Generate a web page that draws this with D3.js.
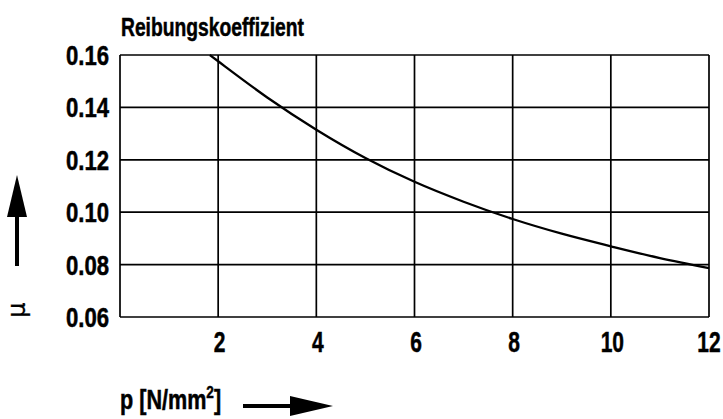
<!DOCTYPE html>
<html>
<head>
<meta charset="utf-8">
<script src="https://cdn.jsdelivr.net/npm/d3@7"></script>
<style>
  body { margin: 0; background: #fff; }
  svg text { font-family: "Liberation Sans", Arial, sans-serif; font-weight: bold; fill: #000; stroke: #000; stroke-width: 0.5px; }
</style>
</head>
<body>
<div class="visualization"></div>
<script>
const width = 723;
const height = 419;

// values
const pressure = [1.83, 2, 3, 4, 5, 6, 7, 8, 9, 10, 11, 12];
const friction = [0.16, 0.1576, 0.1438, 0.1315, 0.1207, 0.1116, 0.104, 0.0974, 0.0918, 0.087, 0.0825, 0.0787];
const xTicks = [2, 4, 6, 8, 10, 12];
const yTicks = [0.06, 0.08, 0.10, 0.12, 0.14, 0.16];
const xGrid = [0, 2, 4, 6, 8, 10, 12];

const plotLeft = 120, plotRight = 709, plotTop = 55, plotBottom = 317;

var svg = d3.select(".visualization").append("svg")
  .attr("width", width)
  .attr("height", height);

var x = d3.scaleLinear().domain([0, 12]).range([plotLeft, plotRight]);
var y = d3.scaleLinear().domain([0.06, 0.16]).range([plotBottom, plotTop]);

// grid
svg.append("g").selectAll("line")
  .data(xGrid).enter().append("line")
  .attr("x1", d => x(d)).attr("x2", d => x(d))
  .attr("y1", plotTop).attr("y2", plotBottom)
  .attr("stroke", "#000").attr("stroke-width", 1.7);

svg.append("g").selectAll("line")
  .data(yTicks).enter().append("line")
  .attr("x1", plotLeft).attr("x2", plotRight)
  .attr("y1", d => y(d)).attr("y2", d => y(d))
  .attr("stroke", "#000").attr("stroke-width", 1.7);

// curve
var line = d3.line()
  .x((d, i) => x(pressure[i]))
  .y(d => y(d))
  .curve(d3.curveMonotoneX);

svg.append("path")
  .datum(friction)
  .attr("d", line)
  .attr("fill", "none")
  .attr("stroke", "#000")
  .attr("stroke-width", 2.3);

// tick labels, squeezed horizontally to look condensed
svg.append("g").selectAll("text")
  .data(yTicks).enter().append("text")
  .attr("transform", d => "translate(109," + (y(d) + 10) + ") scale(0.82,1)")
  .attr("text-anchor", "end")
  .style("font-size", "27px")
  .text(d => d3.format(".2f")(d));

svg.append("g").selectAll("text")
  .data(xTicks).enter().append("text")
  .attr("transform", d => "translate(" + Math.min(x(d) + 1.5, 709) + ",352) scale(0.7,1)")
  .attr("text-anchor", "middle")
  .style("font-size", "30px")
  .text(d => d);

// title
svg.append("text")
  .attr("x", 121).attr("y", 36)
  .attr("textLength", 183)
  .attr("lengthAdjust", "spacingAndGlyphs")
  .style("font-size", "25px")
  .text("Reibungskoeffizient");

// x label + arrow
var xl = svg.append("text")
  .attr("transform", "translate(120,409) scale(0.8,1)")
  .style("font-size", "27px");
xl.append("tspan").text("p [N/mm");
xl.append("tspan").attr("dy", -11).style("font-size", "17px").text("2");
xl.append("tspan").attr("dy", 11).text("]");

svg.append("line")
  .attr("x1", 243).attr("x2", 295)
  .attr("y1", 406).attr("y2", 406)
  .attr("stroke", "#000").attr("stroke-width", 4);
svg.append("path")
  .attr("d", "M290,396 L333,406 L290,416 Z")
  .attr("fill", "#000");

// y arrow + mu
svg.append("line")
  .attr("x1", 17).attr("x2", 17)
  .attr("y1", 210).attr("y2", 266)
  .attr("stroke", "#000").attr("stroke-width", 4);
svg.append("path")
  .attr("d", "M17,175 L27,217 L7,217 Z")
  .attr("fill", "#000");

svg.append("text")
  .attr("transform", "translate(25,310) rotate(-90)")
  .attr("text-anchor", "middle")
  .style("font-family", "DejaVu Sans")
  .style("font-size", "24px")
  .style("font-weight", "normal")
  .style("stroke-width", "0.3px")
  .text("\u03bc");
</script>
</body>
</html>
